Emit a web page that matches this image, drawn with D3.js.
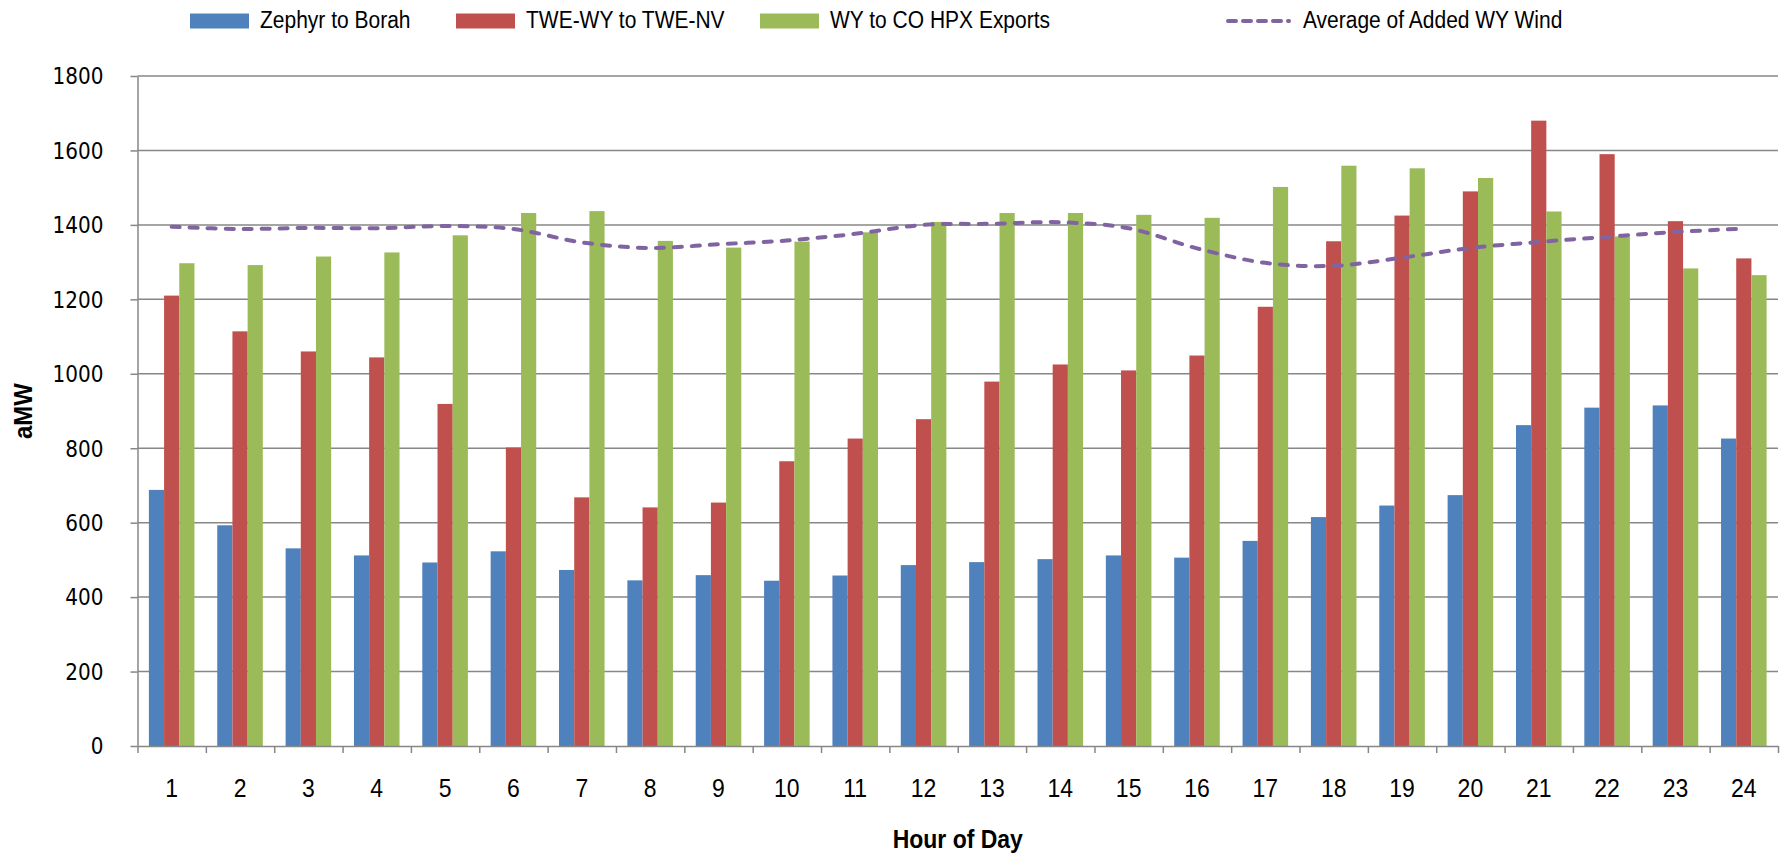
<!DOCTYPE html>
<html>
<head>
<meta charset="utf-8">
<script src="https://cdn.jsdelivr.net/npm/d3@7"></script>
<style>
  html, body { margin: 0; padding: 0; background: #fff; }
  svg { display: block; }
</style>
</head>
<body>
<svg id="chart"></svg>
<script>
// Data
const hours = d3.range(1, 25);
const zephyrBorah = [688, 593, 531, 512, 493, 523, 473, 445, 459, 444, 458, 486, 494, 502, 512, 506, 551, 615, 646, 674, 862, 909, 915, 826];
const tweWyNv = [1210, 1114, 1060, 1044, 919, 802, 668, 641, 654, 765, 826, 878, 979, 1025, 1009, 1049, 1180, 1356, 1425, 1490, 1680, 1590, 1410, 1310];
const coExports = [1297, 1292, 1315, 1326, 1372, 1432, 1437, 1357, 1339, 1355, 1380, 1408, 1432, 1432, 1427, 1419, 1502, 1559, 1552, 1526, 1436, 1369, 1283, 1265];
const avgWind = [1395, 1389, 1392, 1391, 1397, 1389, 1353, 1338, 1348, 1358, 1376, 1400, 1403, 1407, 1391, 1337, 1298, 1290, 1312, 1338, 1354, 1368, 1381, 1390];
const barSeries = ["Zephyr to Borah", "TWE-WY to TWE-NV", "WY to CO HPX Exports"];
const lineName = "Average of Added WY Wind";
const yTicks = [0, 200, 400, 600, 800, 1000, 1200, 1400, 1600, 1800];

const colors = ["#4F81BD", "#C0504D", "#9BBB59"];
const lineColor = "#8064A2";
const gridColor = "#878787";
const labelFont = "'Liberation Sans', Arial, sans-serif";

let width = 1789;
let height = 854;
let plotLeft = 137.5, plotRight = 1778, plotTop = 76, plotBottom = 746;

let svg = d3.select("#chart").attr("width", width).attr("height", height);

// Scales
let x = d3.scaleBand().domain(hours).range([plotLeft, plotRight]).paddingInner(1 / 3).paddingOuter(1 / 6);
let xSub = d3.scaleBand().domain(barSeries).range([0, x.bandwidth()]);
let xEdge = d3.scaleLinear().domain([0, 24]).range([plotLeft, plotRight]);
let y = d3.scaleLinear().domain([0, 1800]).range([plotBottom, plotTop]);

// Gridlines
svg.append("g")
  .selectAll("line")
  .data(yTicks.slice(1))
  .enter()
  .append("line")
  .attr("x1", plotLeft)
  .attr("x2", plotRight)
  .attr("y1", (d) => y(d))
  .attr("y2", (d) => y(d))
  .attr("stroke", gridColor)
  .attr("stroke-width", 1.5);

// Bars
let rows = hours.map((h, i) => ({ hour: h, values: [zephyrBorah[i], tweWyNv[i], coExports[i]] }));
let groups = svg.append("g")
  .selectAll("g")
  .data(rows)
  .enter()
  .append("g")
  .attr("transform", (d) => "translate(" + x(d.hour) + ",0)");
groups.selectAll("rect")
  .data((d) => d.values.map((v, k) => ({ key: barSeries[k], value: v, k: k })))
  .enter()
  .append("rect")
  .attr("x", (d) => xSub(d.key))
  .attr("width", xSub.bandwidth())
  .attr("y", (d) => y(d.value))
  .attr("height", (d) => y(0) - y(d.value))
  .attr("fill", (d) => colors[d.k]);

// Smoothed dashed line
let line = d3.line()
  .x((d, i) => x(hours[i]) + x.bandwidth() / 2)
  .y((d) => y(d))
  .curve(d3.curveCatmullRom.alpha(0.5));
svg.append("path")
  .datum(avgWind)
  .attr("d", line)
  .attr("fill", "none")
  .attr("stroke", lineColor)
  .attr("stroke-width", 4)
  .attr("stroke-dasharray", "8,10")
  .attr("stroke-linecap", "round");

// Y axis
let yAxis = svg.append("g")
  .attr("transform", "translate(" + plotLeft + ",0)")
  .call(d3.axisLeft(y).tickValues(yTicks).tickFormat(d3.format("d")).tickSize(7).tickSizeOuter(0).tickPadding(27));
yAxis.selectAll("path, line").attr("stroke", gridColor).attr("stroke-width", 1.5);
yAxis.selectAll("text")
  .attr("font-family", "'DejaVu Sans', Verdana, sans-serif")
  .attr("font-size", 20)
  .attr("dy", "0.34em")
  .attr("transform", "scale(1,1.15)")
  .attr("fill", "#000");

// X axis: tick marks at category edges
let xTicks = svg.append("g")
  .attr("transform", "translate(0," + plotBottom + ")")
  .call(d3.axisBottom(xEdge).tickValues(d3.range(25)).tickFormat("").tickSize(7).tickSizeOuter(0));
xTicks.selectAll("path, line").attr("stroke", gridColor).attr("stroke-width", 1.5);

// X axis labels
let xLabels = svg.append("g")
  .attr("transform", "translate(0," + plotBottom + ")")
  .call(d3.axisBottom(x).tickSize(0));
xLabels.select(".domain").remove();
xLabels.selectAll("text")
  .attr("y", 0)
  .attr("dy", 0)
  .attr("transform", "translate(0,51) scale(1,1.15)")
  .attr("font-family", labelFont)
  .attr("font-size", 23)
  .attr("fill", "#000");

// Axis titles
svg.append("text")
  .attr("transform", "translate(32," + (plotTop + plotBottom) / 2 + ") rotate(-90) scale(1,1.1)")
  .attr("text-anchor", "middle")
  .attr("font-family", labelFont)
  .attr("font-weight", "bold")
  .attr("font-size", 24)
  .text("aMW");

svg.append("text")
  .attr("transform", "translate(" + (plotLeft + plotRight) / 2 + ",848) scale(1,1.1)")
  .attr("text-anchor", "middle")
  .attr("font-family", labelFont)
  .attr("font-weight", "bold")
  .attr("font-size", 23)
  .text("Hour of Day");

// Legend
let legendItems = [
  { name: barSeries[0], color: colors[0], type: "rect", x: 190 },
  { name: barSeries[1], color: colors[1], type: "rect", x: 456 },
  { name: barSeries[2], color: colors[2], type: "rect", x: 760 },
  { name: lineName, color: lineColor, type: "line", x: 1225 },
];
let legend = svg.append("g")
  .selectAll("g")
  .data(legendItems)
  .enter()
  .append("g")
  .attr("transform", (d) => "translate(" + d.x + ",21)");
legend.filter((d) => d.type === "rect")
  .append("rect")
  .attr("x", 0)
  .attr("y", -7.5)
  .attr("width", 59)
  .attr("height", 15)
  .attr("fill", (d) => d.color);
legend.filter((d) => d.type === "line")
  .append("line")
  .attr("x1", 3)
  .attr("x2", 64)
  .attr("y1", 0)
  .attr("y2", 0)
  .attr("stroke", (d) => d.color)
  .attr("stroke-width", 4)
  .attr("stroke-dasharray", "8,7")
  .attr("stroke-linecap", "round");
legend.append("text")
  .attr("transform", (d) => "translate(" + (d.type === "rect" ? 70 : 78) + ",7) scale(1,1.12)")
  .attr("font-family", labelFont)
  .attr("font-size", 21)
  .attr("fill", "#000")
  .text((d) => d.name);
</script>
</body>
</html>
